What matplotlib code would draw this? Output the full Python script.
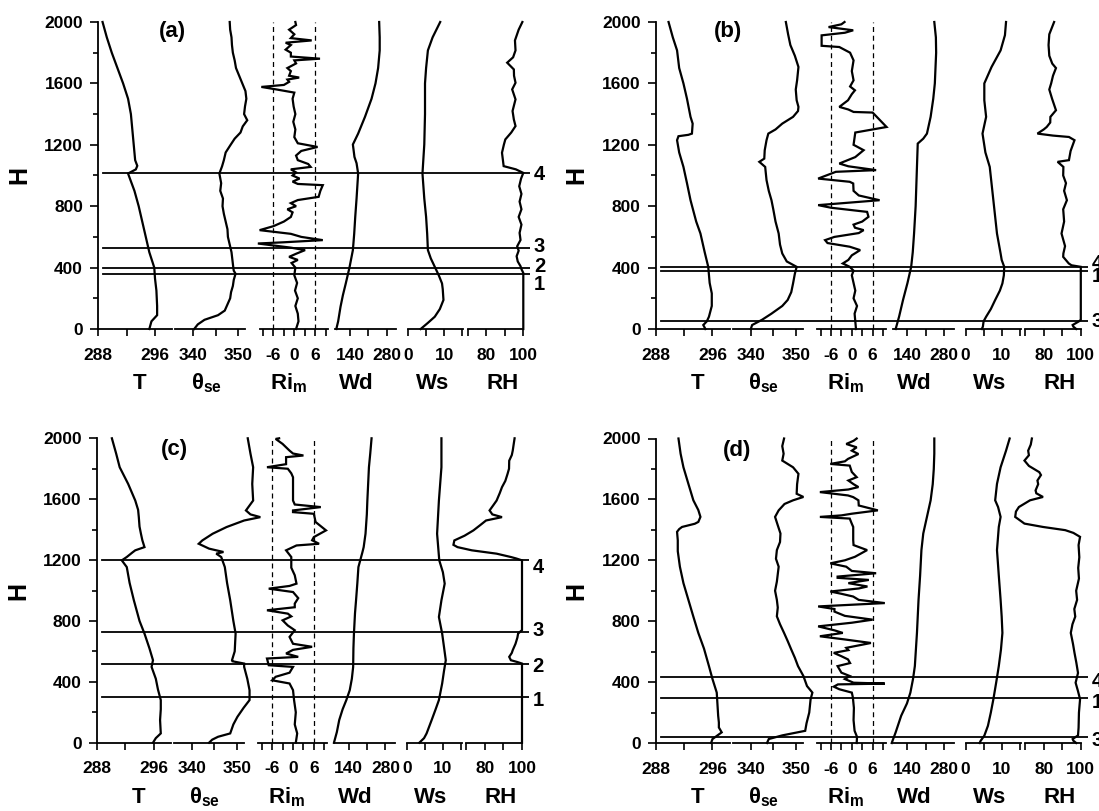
import matplotlib
matplotlib.use('Agg')
import matplotlib.pyplot as plt
from matplotlib.ticker import MultipleLocator

plt.rcParams['font.family'] = ['Liberation Sans', 'DejaVu Sans']
plt.rcParams['font.weight'] = 'bold'
plt.rcParams['mathtext.default'] = 'regular'
plt.rcParams['axes.unicode_minus'] = False

# ------------------------------------------------------------------
# profiles: (height m, value)
# ------------------------------------------------------------------
# panel (a)
a_T = [(0, 295.2), (50, 295.5), (90, 296.3), (150, 296.3), (250, 296.2), (330, 296.0),
       (400, 295.9), (500, 295.2), (600, 294.7), (700, 294.2), (800, 293.7), (900, 293.1),
       (1000, 292.3), (1013, 292.2), (1040, 293.3), (1063, 293.5), (1100, 293.2),
       (1200, 293.0), (1300, 292.8), (1400, 292.6), (1500, 292.2), (1600, 291.5),
       (1700, 290.7), (1800, 289.9), (1900, 289.2), (2000, 288.6)]
a_TH = [(0, 340.2), (30, 341.0), (60, 342.5), (90, 345.5), (120, 347.0), (160, 347.6),
        (200, 348.2), (240, 348.4), (280, 348.8), (320, 349.0), (360, 349.4), (380, 349.0),
        (400, 348.9), (450, 348.7), (500, 348.5), (550, 348.1), (600, 347.7), (650, 347.6),
        (700, 347.2), (750, 346.8), (800, 346.5), (850, 346.6), (900, 346.0), (950, 346.2),
        (1013, 345.8), (1060, 346.4), (1100, 346.8), (1150, 347.2), (1200, 348.3),
        (1240, 349.2), (1280, 350.5), (1320, 351.0), (1360, 352.0), (1400, 351.3),
        (1450, 351.5), (1500, 351.8), (1550, 351.6), (1600, 350.9), (1650, 350.2),
        (1700, 349.5), (1750, 349.2), (1800, 348.8), (1850, 348.6), (1900, 348.5),
        (1950, 348.2), (2000, 348.1)]
a_RI = [(0, 0.5), (50, 1.2), (100, 1.0), (150, 0.3), (200, 1.0), (250, 0.2), (300, 0.8),
        (350, 0.0), (400, 0.3), (430, -0.8), (450, 1.0), (470, -1.5), (490, 0.5),
        (514, 3.1), (530, -1.0), (557, -10.5), (565, -3.0), (579, 8.2), (600, 2.0),
        (620, -1.0), (644, -10.0), (670, -6.0), (700, -3.0), (730, -1.0), (760, -0.5),
        (780, -2.0), (800, 0.5), (820, -1.0), (840, 1.0), (861, 7.0), (900, 7.5),
        (937, 8.2), (945, 1.0), (960, -0.5), (980, 1.5), (1000, -0.5), (1020, 0.5),
        (1040, -1.0), (1056, 4.7), (1075, 4.0), (1100, 1.0), (1130, 0.5), (1160, 2.0),
        (1186, 6.7), (1210, 1.0), (1250, 0.0), (1300, 0.3), (1350, -0.3), (1400, 0.3),
        (1450, -0.2), (1500, -0.5), (1540, 0.0), (1560, -5.0), (1577, -9.5), (1590, -3.0),
        (1610, -1.5), (1625, -2.0), (1638, 1.4), (1650, -1.5), (1680, -1.0), (1700, -2.0),
        (1730, 0.5), (1750, 0.0), (1761, 7.4), (1775, -1.0), (1800, -1.0), (1820, -2.5),
        (1850, -1.0), (1865, -2.5), (1880, 5.0), (1895, -1.0), (1920, 0.0), (1950, -1.5),
        (1980, 0.5), (2000, 0.3)]
a_WD = [(0, 88), (50, 95), (145, 104), (220, 113), (297, 124), (400, 138), (514, 151),
        (620, 156), (731, 160), (850, 165), (1013, 171), (1080, 165), (1121, 157),
        (1202, 151), (1273, 171), (1382, 197), (1500, 222), (1600, 237), (1700, 247),
        (1815, 253), (1900, 253), (2000, 251)]
a_WS = [(0, 3.5), (40, 5.5), (80, 7.4), (130, 8.8), (189, 9.8), (260, 9.6), (297, 9.4),
        (350, 8.5), (405, 7.4), (460, 6.3), (514, 5.5), (620, 5.3), (731, 5.0), (850, 4.5),
        (1013, 4.0), (1202, 4.5), (1400, 4.7), (1600, 4.7), (1700, 5.0), (1815, 5.5),
        (1900, 6.8), (2000, 8.9)]
a_RH = [(0, 100), (365, 100), (390, 99.0), (409, 98.5), (440, 97.0), (474, 96.4),
        (510, 97.5), (539, 96.7), (580, 98.5), (626, 98.0), (680, 99.0), (730, 97.5),
        (780, 99.0), (830, 98.0), (880, 99.0), (930, 97.8), (980, 98.8), (1017, 100),
        (1040, 96.0), (1061, 89.4), (1100, 89.0), (1148, 88.5), (1200, 89.5), (1235, 90.3),
        (1280, 93.5), (1322, 95.8), (1365, 94.9), (1420, 94.2), (1496, 95.8), (1561, 94.0),
        (1604, 95.8), (1650, 95.0), (1691, 94.9), (1735, 91.3), (1770, 94.5), (1815, 95.8),
        (1880, 95.5), (1950, 97.5), (2000, 99.5)]
a_layers = [360, 400, 525, 1015]
a_layer_ids = ['1', '2', '3', '4']

# panel (b)
b_T = [(0, 295.0), (26, 294.7), (50, 295.2), (80, 295.5), (150, 295.9), (232, 295.9),
       (300, 295.6), (405, 295.4), (500, 294.9), (622, 294.3), (700, 293.7), (839, 292.9),
       (950, 292.4), (1056, 291.9), (1150, 291.3), (1230, 291.0), (1256, 291.2),
       (1265, 292.6), (1273, 293.1), (1338, 293.2), (1382, 292.9), (1500, 292.4),
       (1600, 291.9), (1700, 291.3), (1815, 291.0), (1900, 290.4), (2000, 289.8)]
b_TH = [(0, 340.0), (26, 340.3), (60, 342.5), (100, 344.6), (150, 347.0), (189, 348.2),
        (240, 349.0), (297, 349.4), (360, 349.8), (405, 350.2), (440, 348.0), (492, 347.0),
        (550, 346.5), (622, 346.2), (700, 345.5), (780, 345.0), (839, 344.6), (900, 344.0),
        (970, 343.5), (1056, 343.2), (1089, 341.9), (1110, 343.0), (1165, 343.1),
        (1230, 343.5), (1273, 343.9), (1300, 345.5), (1338, 347.0), (1382, 349.4),
        (1420, 350.5), (1447, 350.6), (1490, 350.2), (1560, 350.0), (1620, 350.3),
        (1707, 350.6), (1780, 349.8), (1850, 348.8), (1920, 348.3), (2000, 347.8)]
b_RI = [(0, 1.2), (50, 1.0), (100, 0.8), (150, 1.5), (200, 0.5), (250, 1.0), (300, 0.5),
        (350, 0.0), (380, 0.5), (405, -0.6), (427, -2.6), (450, -1.0), (480, 0.0),
        (514, 2.4), (536, -0.6), (560, -7.0), (579, -7.7), (600, -5.0), (625, 2.0),
        (644, 3.4), (660, 0.9), (680, 0.5), (700, 3.0), (731, 4.8), (763, 4.4), (790, -6.0),
        (807, -9.7), (839, 8.0), (870, 2.0), (900, 0.5), (948, 0.4), (959, -0.6),
        (980, -9.7), (1024, -4.6), (1035, 7.0), (1060, -1.0), (1078, -3.6), (1120, 1.0),
        (1165, 3.4), (1200, 0.5), (1280, 1.0), (1316, 10.0), (1410, 6.0), (1414, 0.5),
        (1430, -1.0), (1447, -3.6), (1490, -1.1), (1530, 0.0), (1555, 0.9), (1580, -0.5),
        (1620, 0.5), (1680, 0.0), (1750, 0.5), (1800, -0.5), (1837, -3.6), (1845, -8.7),
        (1913, -8.7), (1930, -2.0), (1946, 0.4), (1967, -6.7), (1985, -3.0), (2000, -2.1)]
b_WD = [(0, 95), (80, 108), (189, 123), (300, 140), (405, 154), (500, 160), (622, 165),
        (800, 171), (1056, 176), (1208, 179), (1240, 200), (1273, 214), (1382, 228),
        (1500, 238), (1600, 244), (1800, 249), (1900, 248), (2000, 242)]
b_WS = [(0, 4.5), (15, 4.8), (50, 5.0), (80, 5.7), (130, 7.0), (189, 8.2), (250, 9.5),
        (297, 10.2), (350, 10.6), (405, 10.7), (450, 10.0), (492, 9.7), (622, 8.7),
        (839, 7.7), (1056, 6.7), (1150, 5.5), (1273, 4.7), (1382, 5.7), (1490, 5.2),
        (1600, 5.2), (1707, 7.2), (1815, 9.7), (1914, 10.9), (2000, 11.2)]
b_RH = [(0, 97.5), (15, 96.0), (26, 95.6), (50, 99.0), (60, 100), (405, 100), (415, 95.0),
        (427, 93.5), (470, 90.5), (492, 90.6), (540, 91.5), (622, 89.6), (700, 91.0),
        (780, 90.5), (839, 92.5), (900, 91.0), (950, 92.0), (1000, 90.5), (1056, 90.6),
        (1089, 87.5), (1100, 93.6), (1160, 94.5), (1230, 96.6), (1251, 93.6), (1260, 85.0),
        (1273, 76.6), (1300, 80.0), (1316, 81.6), (1345, 83.5), (1382, 83.6), (1425, 86.6),
        (1500, 84.5), (1560, 83.0), (1600, 84.0), (1650, 85.0), (1700, 86.6), (1729, 84.6),
        (1780, 83.0), (1850, 82.6), (1920, 83.0), (2000, 85.6)]
b_layers = [380, 52, 405]
b_layer_ids = ['1', '3', '4']

# panel (c)
c_T = [(0, 295.9), (30, 296.3), (61, 297.0), (149, 296.9), (220, 297.0), (280, 297.0),
       (350, 296.6), (420, 296.3), (498, 295.7), (542, 295.9), (620, 295.4), (717, 294.7),
       (800, 294.0), (936, 293.2), (1050, 292.6), (1154, 292.2), (1198, 291.5),
       (1220, 292.2), (1250, 293.0), (1264, 293.4), (1285, 294.7), (1330, 294.4),
       (1373, 294.2), (1420, 294.0), (1482, 293.9), (1530, 293.8), (1591, 293.4),
       (1700, 292.4), (1810, 291.2), (1900, 290.7), (2000, 290.1)]
c_TH = [(0, 343.8), (20, 344.5), (39, 345.8), (61, 348.5), (120, 349.2), (170, 350.1),
        (230, 351.5), (280, 352.8), (345, 352.8), (420, 352.3), (498, 351.6), (520, 351.6),
        (535, 349.0), (542, 348.9), (600, 349.5), (717, 349.7), (800, 349.2), (936, 348.5),
        (1050, 347.8), (1154, 347.3), (1220, 346.5), (1242, 345.4), (1253, 347.0),
        (1275, 343.8), (1307, 341.5), (1329, 342.3), (1373, 344.6), (1417, 347.7),
        (1460, 351.6), (1482, 355.2), (1500, 353.0), (1526, 352.0), (1591, 353.6),
        (1700, 353.4), (1810, 353.6), (1900, 353.0), (2000, 352.4)]
c_RI = [(0, 0.8), (30, 1.0), (61, 1.2), (120, 0.5), (200, 0.8), (280, 0.3), (345, 0.0),
        (389, -1.0), (410, -6.0), (433, -5.0), (460, -1.0), (498, 0.0), (509, -7.0),
        (553, -7.5), (564, 1.5), (586, -2.0), (610, 0.0), (630, 5.5), (650, 0.0),
        (695, -1.0), (739, 0.5), (770, -1.5), (804, -3.0), (830, -0.5), (848, -1.5),
        (870, -7.5), (890, 0.5), (914, 0.5), (950, 1.5), (990, 0.0), (1012, -7.0),
        (1030, -1.0), (1045, 1.0), (1100, 0.5), (1150, -0.5), (1220, -0.5), (1264, -2.0),
        (1296, 1.0), (1307, 7.5), (1330, 5.5), (1351, 6.0), (1395, 9.5), (1450, 6.5),
        (1504, 6.0), (1515, 0.0), (1526, 0.0), (1548, 8.0), (1565, 0.5), (1591, 0.0),
        (1650, 0.0), (1744, 0.0), (1770, -0.5), (1800, -1.5), (1810, -7.5), (1830, -2.0),
        (1876, -2.0), (1887, 3.0), (1900, 0.0), (1919, -1.0), (1963, -3.0), (1996, -5.0),
        (2000, -4.0)]
c_WD = [(0, 84), (70, 95), (149, 104), (220, 117), (280, 131), (345, 144), (420, 152),
        (498, 157), (620, 158), (717, 160), (850, 164), (936, 168), (1050, 173),
        (1154, 177), (1250, 192), (1285, 197), (1373, 204), (1500, 209), (1591, 211),
        (1700, 214), (1810, 217), (1900, 222), (2000, 227)]
c_WS = [(0, 3.5), (30, 4.8), (61, 5.5), (149, 6.9), (220, 8.0), (280, 8.9), (389, 9.8),
        (470, 10.3), (542, 10.8), (630, 10.3), (717, 9.8), (826, 8.9), (936, 9.6),
        (1045, 10.5), (1120, 10.0), (1198, 9.0), (1373, 8.4), (1591, 8.9), (1810, 9.6),
        (2000, 9.6)]
c_RH = [(0, 100), (520, 100), (530, 97.5), (542, 94.0), (564, 93.1), (590, 94.5),
        (608, 95.0), (650, 96.5), (690, 97.5), (717, 97.9), (740, 100), (1198, 100),
        (1210, 97.0), (1220, 94.0), (1242, 86.3), (1264, 72.9), (1285, 65.2), (1300, 63.0),
        (1329, 63.5), (1360, 69.0), (1395, 73.8), (1430, 77.5), (1460, 80.6), (1482, 89.2),
        (1500, 84.0), (1526, 82.5), (1560, 84.5), (1591, 86.3), (1640, 88.0), (1679, 89.2),
        (1720, 91.0), (1766, 92.2), (1800, 93.0), (1853, 93.1), (1890, 94.5), (1919, 95.0),
        (1960, 95.5), (2000, 96.0)]
c_layers = [300, 520, 730, 1200]
c_layer_ids = ['1', '2', '3', '4']

# panel (d)
d_T = [(0, 295.8), (26, 296.0), (70, 297.3), (102, 296.9), (135, 296.9), (179, 296.8),
       (331, 296.6), (420, 296.0), (505, 295.5), (620, 294.8), (723, 294.0), (830, 293.3),
       (940, 292.6), (1050, 291.9), (1158, 291.4), (1260, 291.1), (1332, 291.1),
       (1387, 291.0), (1405, 291.3), (1419, 291.7), (1440, 293.5), (1452, 294.0),
       (1485, 294.3), (1530, 294.0), (1594, 293.3), (1702, 292.6), (1811, 291.9),
       (1900, 291.5), (2000, 291.2)]
d_TH = [(0, 343.6), (26, 344.0), (50, 347.0), (80, 352.1), (130, 352.4), (200, 353.0),
        (287, 353.3), (331, 353.7), (374, 352.5), (440, 351.7), (505, 350.5), (560, 349.8),
        (614, 349.0), (670, 348.2), (723, 347.4), (780, 346.5), (832, 345.8), (890, 346.0),
        (940, 345.8), (1000, 345.4), (1060, 345.8), (1158, 346.2), (1210, 345.6),
        (1267, 345.8), (1320, 346.5), (1376, 346.6), (1430, 346.0), (1485, 345.4),
        (1528, 346.2), (1570, 347.5), (1594, 349.4), (1616, 351.7), (1637, 350.2),
        (1700, 350.3), (1768, 350.6), (1811, 349.4), (1855, 347.0), (1900, 347.3),
        (1950, 347.0), (2000, 347.4)]
d_RI = [(0, 1.4), (40, 1.5), (80, 0.8), (150, 0.5), (230, 0.6), (300, 0.3), (331, 0.0),
        (353, -3.6), (370, -5.2), (385, -4.0), (390, 9.5), (396, 0.5), (420, -2.0),
        (440, -0.6), (462, -3.0), (505, -4.1), (525, -0.5), (549, -1.1), (570, -3.0),
        (592, -5.2), (610, -1.0), (625, -1.6), (657, 5.5), (680, -2.0), (701, -9.2),
        (723, -2.6), (740, -5.0), (766, -9.7), (790, 0.0), (810, 6.0), (835, -2.0),
        (863, -5.0), (880, -5.0), (897, -9.7), (919, 9.5), (940, 2.0), (962, 0.4),
        (980, -3.0), (995, -6.2), (1015, 2.0), (1028, 4.5), (1050, -1.0), (1071, 4.9),
        (1085, -4.1), (1093, -4.1), (1115, 7.0), (1130, 0.0), (1158, -1.6), (1180, -6.2),
        (1200, -2.0), (1223, 0.9), (1267, 4.4), (1300, 0.5), (1332, 0.4), (1380, 0.4),
        (1419, 0.4), (1440, 0.0), (1474, -0.6), (1485, -9.2), (1495, -3.0), (1506, 0.0),
        (1528, 7.5), (1560, 2.0), (1594, 1.9), (1615, 0.4), (1626, -1.1), (1648, -9.2),
        (1665, -1.0), (1681, 1.9), (1700, 0.5), (1724, -1.0), (1746, 1.4), (1780, 0.0),
        (1822, -0.6), (1833, -6.2), (1850, -2.0), (1866, -1.1), (1898, 1.9), (1920, 0.0),
        (1942, 1.4), (1964, -1.6), (1985, 0.5), (2000, 1.4)]
d_WD = [(0, 80), (70, 95), (179, 116), (260, 138), (331, 151), (420, 161), (505, 168),
        (723, 176), (940, 182), (1100, 188), (1267, 193), (1376, 200), (1485, 214),
        (1594, 228), (1700, 236), (1800, 240), (1900, 242), (2000, 242)]
d_WS = [(0, 3.9), (15, 4.2), (48, 5.2), (113, 6.2), (200, 7.0), (287, 7.7), (400, 8.5),
        (505, 9.2), (614, 9.8), (723, 10.2), (830, 10.0), (940, 9.7), (1100, 9.2),
        (1267, 8.7), (1419, 9.2), (1485, 9.7), (1550, 9.0), (1594, 8.2), (1702, 8.7),
        (1811, 9.7), (1920, 11.2), (2000, 12.2)]
d_RH = [(0, 97.5), (15, 96.0), (26, 95.6), (50, 98.5), (100, 98.8), (200, 99.0), (287, 99.6),
        (340, 98.5), (396, 97.2), (460, 98.5), (527, 97.6), (592, 96.6), (650, 95.8),
        (723, 94.6), (780, 95.5), (830, 97.0), (880, 96.5), (940, 98.0), (1000, 97.5),
        (1080, 99.0), (1150, 98.6), (1220, 99.2), (1300, 98.8), (1354, 99.6), (1380, 96.0),
        (1398, 91.6), (1419, 79.6), (1441, 69.6), (1485, 64.6), (1520, 65.0), (1550, 66.6),
        (1594, 72.6), (1616, 79.6), (1640, 76.0), (1659, 75.6), (1700, 77.0), (1724, 76.6),
        (1760, 78.5), (1779, 77.6), (1820, 72.0), (1855, 69.6), (1890, 72.0), (1920, 71.6),
        (1960, 73.0), (2000, 73.6)]
d_layers = [294, 41, 435]
d_layer_ids = ['1', '3', '4']

# ------------------------------------------------------------------
# layout (pixels of the 1099 x 811 canvas)
# ------------------------------------------------------------------
W, HT = 1099, 811
PANEL_W = 432  # from the H axis to the right end of the layer lines

# name, left, right (px from the H axis), name centre (px), x-limits, major, minor
SUB = [('T', 0.0, 73.7, 41.5, (288, 298.4), 8, 4),
       ('θ$_{se}$', 77.0, 146.7, 108, (336, 351.5), 10, 5),
       ('Ri$_{m}$', 161.3, 229.7, 190, (-10, 9.7), 6, 3),
       ('Wd', 236.7, 297.7, 258, (83, 315), 140, 70),
       ('Ws', 309.7, 364.7, 334, (0, 15.2), 10, 5),
       ('RH', 369.4, 425.0, 404, (70, 100), 20, 10)]

panels = [
    # tag, x0, y(2000), y(0), tag pos (axes frac), profiles, layers, ids, label shifts (m)
    ('(a)', 98.3, 22.0, 329.0, (0.171, 0.97), [a_T, a_TH, a_RI, a_WD, a_WS, a_RH],
     a_layers, a_layer_ids, [-71, 9, 12, -8]),
    ('(b)', 655.8, 22.0, 329.0, (0.167, 0.97), [b_T, b_TH, b_RI, b_WD, b_WS, b_RH],
     b_layers, b_layer_ids, [-40, -4, 24]),
    ('(c)', 97.0, 438.3, 742.7, (0.18, 0.962), [c_T, c_TH, c_RI, c_WD, c_WS, c_RH],
     c_layers, c_layer_ids, [-22, -22, 9, -46]),
    ('(d)', 655.8, 438.5, 743.0, (0.188, 0.96), [d_T, d_TH, d_RI, d_WD, d_WS, d_RH],
     d_layers, d_layer_ids, [-28, -26, -28]),
]

fig = plt.figure(figsize=(W / 100, HT / 100), dpi=100)


def px_axes(left, right, top, bottom):
    return fig.add_axes([left / W, 1 - bottom / HT, (right - left) / W, (bottom - top) / HT])


for tag, x0, ytop, ybot, tagpos, profiles, layers, ids, shifts in panels:
    ax = px_axes(x0, x0 + PANEL_W, ytop, ybot)
    ax.patch.set_visible(False)
    ax.set_xlim(0, 1)
    ax.set_ylim(0, 2000)
    for s in ('top', 'right', 'bottom'):
        ax.spines[s].set_visible(False)
    ax.spines['left'].set_linewidth(1.3)
    ax.set_xticks([])
    ax.yaxis.set_major_locator(MultipleLocator(400))
    ax.yaxis.set_minor_locator(MultipleLocator(200))
    ax.tick_params(axis='y', which='major', length=6, width=1.2, labelsize=12.5, pad=5)
    ax.tick_params(axis='y', which='minor', length=3.5, width=1.2)
    ax.set_ylabel('H', fontsize=18, fontweight='bold', va='center')
    ax.yaxis.set_label_coords(-79 / PANEL_W, 0.5)
    ax.text(tagpos[0], tagpos[1], tag, transform=ax.transAxes, ha='center', va='center',
            fontsize=16, fontweight='bold')

    for h, lid, sh in zip(layers, ids, shifts):
        ax.axhline(h, xmin=4.7 / PANEL_W, xmax=1, color='k', lw=1.3)
        ax.text(1.008, h + sh, lid, transform=ax.get_yaxis_transform(), ha='left',
                va='center', fontsize=14.5, fontweight='bold')

    axh = ybot - ytop
    for (name, l, r, nx, xlim, major, minor), prof in zip(SUB, profiles):
        sub = px_axes(x0 + l, x0 + r, ytop, ybot)
        sub.patch.set_visible(False)
        sub.set_xlim(*xlim)
        sub.set_ylim(0, 2000)
        for s in ('top', 'right', 'left'):
            sub.spines[s].set_visible(False)
        sub.spines['bottom'].set_linewidth(1.3)
        sub.set_yticks([])
        sub.xaxis.set_major_locator(MultipleLocator(major))
        sub.xaxis.set_minor_locator(MultipleLocator(minor))
        sub.tick_params(axis='x', which='both', length=5, width=1.2, labelsize=12.5, pad=8.5)
        sub.set_xlabel(name, fontsize=16, fontweight='bold', va='center')
        sub.xaxis.set_label_coords((nx - l) / (r - l), -54.5 / axh)
        if name.startswith('Ri'):
            for v in (-6, 6):
                sub.axvline(v, color='k', lw=0.9, ls=(0, (4, 3)))
        hs = [p[0] for p in prof]
        vs = [p[1] for p in prof]
        sub.plot(vs, hs, color='k', lw=1.6, clip_on=False, solid_joinstyle='miter')

fig.savefig('out.png', dpi=100)
